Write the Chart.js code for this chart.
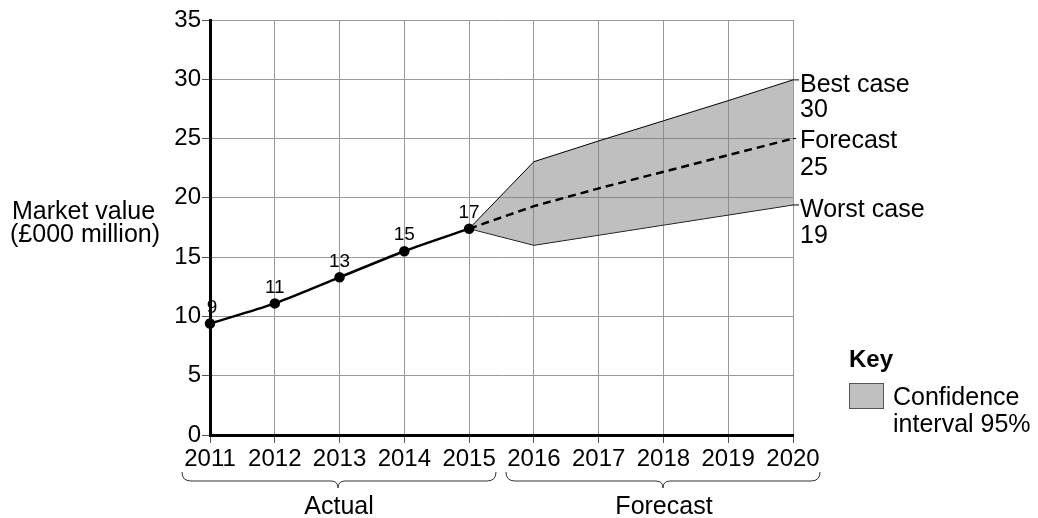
<!DOCTYPE html>
<html>
<head>
<meta charset="utf-8">
<script src="https://cdn.jsdelivr.net/npm/chart.js@4/dist/chart.umd.min.js"></script>
<style>
  html, body { margin: 0; padding: 0; background: #fff; }
  #wrap { width: 1038px; height: 518px; }
</style>
</head>
<body>
<div id="wrap"><canvas id="c" width="1038" height="518"></canvas></div>
<script>
// data
const years = ['2011', '2012', '2013', '2014', '2015', '2016', '2017', '2018', '2019', '2020'];
const actual = [9.4, 11.1, 13.3, 15.5, 17.4, null, null, null, null, null];
const actualLabels = ['9', '11', '13', '15', '17'];
const forecast = [null, null, null, null, 17.4, 19.3, 20.8, 22.2, 23.6, 25.0];
const bestCase = [null, null, null, null, 17.4, 23.05, 24.8, 26.5, 28.2, 29.95];
const worstCase = [null, null, null, null, 17.4, 16.0, 16.85, 17.7, 18.55, 19.4];
const yTicks = [0, 5, 10, 15, 20, 25, 30, 35];

const FONT = '"Liberation Sans", Arial, sans-serif';

const annotations = {
  id: 'annotations',
  afterDraw(chart) {
    const ctx = chart.ctx;
    const xs = chart.scales.x;
    const ys = chart.scales.y;
    ctx.save();
    ctx.fillStyle = '#000';

    // value labels above the actual points
    ctx.font = '19px ' + FONT;
    ctx.textAlign = 'center';
    ctx.textBaseline = 'middle';
    actualLabels.forEach((t, i) => {
      const x = xs.getPixelForValue(i) + (i === 0 ? 2 : 0);
      const y = ys.getPixelForValue(actual[i]) - 16;
      ctx.fillText(t, x, y);
    });

    // leader stubs and end labels
    const last = years.length - 1;
    const xEnd = xs.getPixelForValue(last);
    ctx.strokeStyle = '#000';
    ctx.lineWidth = 1;
    [[bestCase[last], []], [worstCase[last], []], [forecast[last], [3, 3]]].forEach(([v, dash]) => {
      ctx.setLineDash(dash);
      ctx.beginPath();
      ctx.moveTo(xEnd, ys.getPixelForValue(v));
      ctx.lineTo(xEnd + 6, ys.getPixelForValue(v));
      ctx.stroke();
    });
    ctx.setLineDash([]);

    ctx.font = '25px ' + FONT;
    ctx.textAlign = 'left';
    ctx.textBaseline = 'alphabetic';
    const lx = 800;
    ctx.fillText('Best case', lx, 92);
    ctx.fillText('30', lx, 117);
    ctx.fillText('Forecast', lx, 148);
    ctx.fillText('25', lx, 175);
    ctx.fillText('Worst case', lx, 217);
    ctx.fillText('19', lx, 243);

    // y axis title
    ctx.fillText('Market value', 12, 219);
    ctx.fillText('(£000 million)', 10, 242);

    // braces under the x axis
    function brace(x1, x2, tip) {
      const yTop = 472, yMid = 481, yTip = 488;
      ctx.beginPath();
      ctx.moveTo(x1, yTop);
      ctx.quadraticCurveTo(x1, yMid, x1 + 9, yMid);
      ctx.lineTo(tip - 7, yMid);
      ctx.quadraticCurveTo(tip, yMid, tip, yTip);
      ctx.quadraticCurveTo(tip, yMid, tip + 7, yMid);
      ctx.lineTo(x2 - 9, yMid);
      ctx.quadraticCurveTo(x2, yMid, x2, yTop);
      ctx.stroke();
    }
    ctx.strokeStyle = '#333';
    ctx.lineWidth = 1;
    brace(182, 496, 338);
    brace(506, 820, 663);
    ctx.textAlign = 'center';
    ctx.fillText('Actual', 339, 514);
    ctx.fillText('Forecast', 664, 514);

    // key
    ctx.textAlign = 'left';
    ctx.font = 'bold 24px ' + FONT;
    ctx.fillText('Key', 849, 367);
    ctx.fillStyle = '#c0c0c0';
    ctx.fillRect(849, 383, 34, 25);
    ctx.strokeStyle = '#555';
    ctx.strokeRect(849.5, 383.5, 34, 25);
    ctx.fillStyle = '#000';
    ctx.font = '25px ' + FONT;
    ctx.fillText('Confidence', 893, 405);
    ctx.fillText('interval 95%', 893, 432);
    ctx.restore();
  }
};

new Chart(document.getElementById('c'), {
  type: 'line',
  data: {
    labels: years,
    datasets: [
      {
        data: actual,
        borderColor: '#000',
        borderWidth: 2.5,
        tension: 0.3,
        pointRadius: 4,
        pointBackgroundColor: '#000',
        pointBorderColor: '#000',
        fill: false
      },
      {
        data: forecast,
        borderColor: '#000',
        borderWidth: 2.5,
        borderDash: [8, 5],
        tension: 0,
        pointRadius: 0,
        fill: false
      },
      {
        data: bestCase,
        borderColor: '#000',
        borderWidth: 1,
        tension: 0,
        pointRadius: 0,
        fill: '+1',
        backgroundColor: 'rgba(128,128,128,0.5)'
      },
      {
        data: worstCase,
        borderColor: '#000',
        borderWidth: 1,
        tension: 0,
        pointRadius: 0,
        fill: false
      }
    ]
  },
  options: {
    responsive: false,
    animation: false,
    layout: { padding: { left: 0, right: 245, top: 20, bottom: 0 } },
    plugins: { legend: { display: false }, tooltip: { enabled: false } },
    scales: {
      x: {
        offset: false,
        grid: { color: '#999', lineWidth: 1, tickLength: 8, tickColor: '#555' },
        border: { color: '#000', width: 3 },
        ticks: { color: '#000', font: { size: 24, family: FONT }, padding: 2, maxRotation: 0, autoSkip: false },
        afterFit(s) { s.height = 83; }
      },
      y: {
        min: 0,
        max: 35,
        afterBuildTicks(s) { s.ticks = yTicks.map(v => ({ value: v })); },
        grid: { color: '#999', lineWidth: 1, tickLength: 8, tickColor: '#555' },
        border: { color: '#000', width: 3 },
        ticks: { color: '#000', font: { size: 24, family: FONT }, padding: 1 },
        afterFit(s) { s.width = 210; }
      }
    }
  },
  plugins: [annotations]
});
</script>
</body>
</html>
